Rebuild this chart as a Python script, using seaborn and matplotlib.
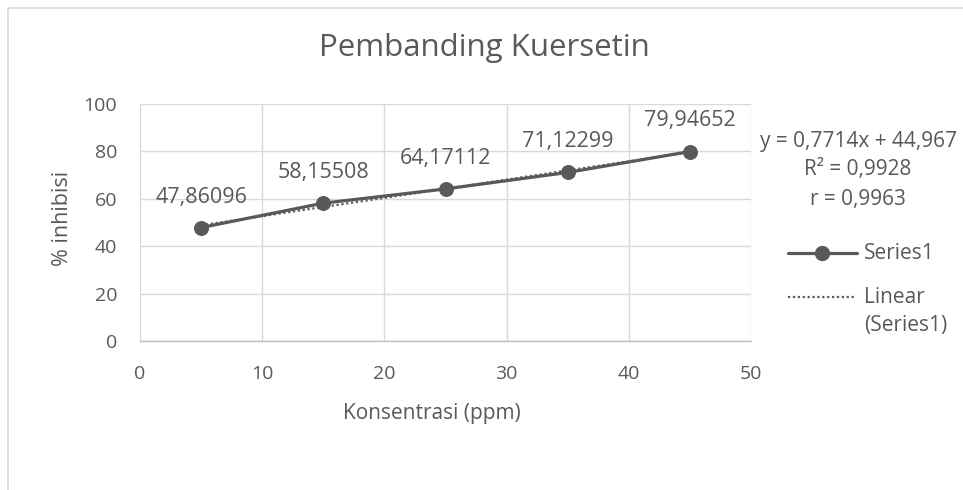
import numpy as np
import pandas as pd
import matplotlib
matplotlib.use("Agg")
import matplotlib.pyplot as plt
from matplotlib.patches import Rectangle
from matplotlib.lines import Line2D
import seaborn as sns

# DATA

konsentrasi = [5, 15, 25, 35, 45]
inhibisi = [47.86096, 58.15508, 64.17112, 71.12299, 79.94652]
label_titik = ["47,86096", "58,15508", "64,17112", "71,12299", "79,94652"]
x_ticks = [0, 10, 20, 30, 40, 50]
y_ticks = [0, 20, 40, 60, 80, 100]
teks_persamaan = ["y = 0,7714x + 44,967", "R² = 0,9928", "r = 0,9963"]

df = pd.DataFrame({"Konsentrasi": konsentrasi, "Inhibisi": inhibisi})

sns.set_style("white")
plt.rcParams["font.family"] = ["Open Sans", "DejaVu Sans"]

abu = "#595959"
grid = "#d9d9d9"

W, H = 963, 490
fig = plt.figure(figsize=(9.63, 4.9), dpi=100)
ax = fig.add_axes([140 / W, 1 - 341 / H, 611 / W, 237 / H])

# trendline linear
sns.regplot(
    data=df, x="Konsentrasi", y="Inhibisi", ax=ax,
    scatter=False, ci=None, truncate=True,
    line_kws={"color": abu, "lw": 1.6, "ls": (0, (1, 1.2)), "zorder": 3}
)

# series utama
sns.lineplot(
    data=df, x="Konsentrasi", y="Inhibisi", ax=ax,
    color=abu, lw=2.3, marker="o", markersize=10,
    markeredgecolor=abu, zorder=4
)

for xv, yv, lb in zip(konsentrasi, inhibisi, label_titik):
    ax.annotate(lb, (xv, yv), xytext=(0, 22), textcoords="offset points",
                ha="center", va="center", fontsize=15.5, color=abu)

ax.set_xlim(0, 50)
ax.set_ylim(0, 100)
ax.set_xticks(x_ticks)
ax.set_yticks(y_ticks)
ax.grid(True, color=grid, lw=1)
for s in ["top", "right", "left"]:
    ax.spines[s].set_visible(False)
ax.spines["bottom"].set_color("#bfbfbf")
ax.spines["bottom"].set_linewidth(1)
ax.tick_params(axis="both", length=0, labelsize=14, colors=abu)
ax.tick_params(axis="x", pad=17.5)
ax.tick_params(axis="y", pad=16.5)

ax.set_xlabel("Konsentrasi (ppm)", fontsize=15, color=abu)
ax.set_ylabel("% inhibisi", fontsize=15.5, color=abu)
ax.xaxis.set_label_coords((432 - 140) / 611, -(413 - 341) / 237)
ax.yaxis.set_label_coords(-(140 - 62) / 611, (341 - 218) / 237)
ax.xaxis.label.set_va("center")
ax.yaxis.label.set_va("center")

fig.text(484 / W, 1 - 48 / H, "Pembanding Kuersetin",
         ha="center", va="center", fontsize=22.5, color=abu)

# persamaan trendline
for i, t in enumerate(teks_persamaan):
    fig.text(858 / W, 1 - (141 + 29 * i) / H, t,
             ha="center", va="center", fontsize=15, color=abu)

# legenda
lax = fig.add_axes([0, 0, 1, 1], facecolor="none")
lax.set_xlim(0, W)
lax.set_ylim(H, 0)
lax.axis("off")
lax.add_line(Line2D([788, 857], [253, 253], color=abu, lw=2.3))
lax.plot([822], [253], marker="o", markersize=10, color=abu)
lax.text(864, 253, "Series1", ha="left", va="center", fontsize=15, color=abu)
lax.add_line(Line2D([788, 855], [297, 297], color=abu, lw=1.6, ls=(0, (1, 1.2))))
lax.text(864, 297, "Linear", ha="left", va="center", fontsize=15, color=abu)
lax.text(864, 325, "(Series1)", ha="left", va="center", fontsize=15, color=abu)

# bingkai area chart
lax.add_patch(Rectangle((8, 8), 1000, 600, fill=False, edgecolor=grid, lw=1.2))

fig.savefig("out.png", dpi=100, facecolor="white")
